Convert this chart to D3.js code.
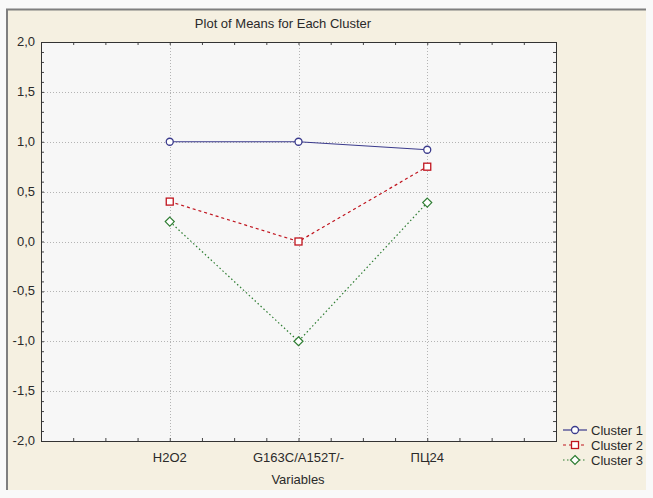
<!DOCTYPE html>
<html>
<head>
<meta charset="utf-8">
<script src="https://cdn.jsdelivr.net/npm/d3@7"></script>
<style>
  body { margin: 0; background: #f9f9f9; }
  text { font-family: "Liberation Sans", Arial, sans-serif; fill: #2a2a2a; }
</style>
</head>
<body>
<svg id="chart" width="653" height="498"></svg>
<script>
const variables = ["H2O2", "G163C/A152T/-", "ПЦ24"];
const clusterNames = ["Cluster 1", "Cluster 2", "Cluster 3"];
const cluster1 = [1.0, 1.0, 0.92];
const cluster2 = [0.40, 0.0, 0.75];
const cluster3 = [0.20, -1.0, 0.39];
const yTicks = [-2.0, -1.5, -1.0, -0.5, 0.0, 0.5, 1.0, 1.5, 2.0];

const series = [
    {name: clusterNames[0], values: cluster1, color: "#3a3a8c", dash: null, marker: "circle"},
    {name: clusterNames[1], values: cluster2, color: "#c0141e", dash: "3,3", marker: "square"},
    {name: clusterNames[2], values: cluster3, color: "#2e7d32", dash: "1.5,2.5", marker: "diamond"}
];

const svg = d3.select("#chart");
const fs = 13;

// panel frame (sunken look)
svg.append("rect").attr("x", 6).attr("y", 9).attr("width", 640).attr("height", 481).attr("fill", "#f5f0e1");
svg.append("line").attr("x1", 6).attr("x2", 646).attr("y1", 9.5).attr("y2", 9.5).attr("stroke", "#7f7f7f").attr("stroke-width", 2);
svg.append("line").attr("x1", 7).attr("x2", 7).attr("y1", 9).attr("y2", 490).attr("stroke", "#7f7f7f").attr("stroke-width", 2);

const margin = {left: 41, top: 42, right: 556, bottom: 441};

const x = d3.scaleLinear().domain([0, variables.length + 1]).range([margin.left, margin.right]);
const y = d3.scaleLinear().domain([-2, 2]).range([margin.bottom, margin.top]);

svg.append("rect")
    .attr("x", margin.left).attr("y", margin.top)
    .attr("width", margin.right - margin.left).attr("height", margin.bottom - margin.top)
    .attr("fill", "#f7f7f7");

// grid lines
const grid = svg.append("g").attr("stroke", "#b4b4b4").attr("stroke-dasharray", "1,2").attr("stroke-width", 1);
yTicks.slice(1, -1).forEach(v => {
    grid.append("line").attr("x1", margin.left).attr("x2", margin.right)
        .attr("y1", Math.round(y(v)) + 0.5).attr("y2", Math.round(y(v)) + 0.5);
});
variables.forEach((v, i) => {
    grid.append("line").attr("y1", margin.top).attr("y2", margin.bottom)
        .attr("x1", Math.round(x(i + 1)) + 0.5).attr("x2", Math.round(x(i + 1)) + 0.5);
});

// axes with inward minor ticks
const minorY = d3.range(-20, 21).map(d => d / 10);
const minorX = d3.range(0, 17).map(d => d / 4);
svg.append("g").attr("transform", `translate(${margin.left},0)`)
    .call(d3.axisRight(y).tickValues(minorY).tickSize(3).tickFormat(""));
svg.append("g").attr("transform", `translate(${margin.right},0)`)
    .call(d3.axisLeft(y).tickValues(minorY).tickSize(3).tickFormat(""));
svg.append("g").attr("transform", `translate(0,${margin.top})`)
    .call(d3.axisBottom(x).tickValues(minorX).tickSize(3).tickFormat(""));
svg.append("g").attr("transform", `translate(0,${margin.bottom})`)
    .call(d3.axisTop(x).tickValues(minorX).tickSize(3).tickFormat(""));
svg.selectAll(".domain").attr("stroke", "#333");
svg.selectAll(".tick line").attr("stroke", "#444");

// frame
svg.append("rect")
    .attr("x", margin.left + 0.5).attr("y", margin.top + 0.5)
    .attr("width", margin.right - margin.left).attr("height", margin.bottom - margin.top)
    .attr("fill", "none").attr("stroke", "#333").attr("stroke-width", 1);

// y tick labels
svg.append("g").selectAll("text").data(yTicks).join("text")
    .attr("x", 35).attr("y", d => y(d) + 4)
    .attr("text-anchor", "end").attr("font-size", fs)
    .text(d => d3.format(".1f")(d).replace(".", ",").replace("−", "-"));

// x tick labels
svg.append("g").selectAll("text").data(variables).join("text")
    .attr("x", (d, i) => x(i + 1)).attr("y", 462)
    .attr("text-anchor", "middle").attr("font-size", fs)
    .text(d => d);

svg.append("text").attr("x", 298).attr("y", 484).attr("text-anchor", "middle").attr("font-size", fs).text("Variables");
svg.append("text").attr("x", 283).attr("y", 28).attr("text-anchor", "middle").attr("font-size", fs).text("Plot of Means for Each Cluster");

function drawMarker(g, type, cx, cy, color) {
    if (type === "circle") {
        g.append("circle").attr("cx", cx).attr("cy", cy).attr("r", 3.5)
            .attr("fill", "#fff").attr("stroke", color).attr("stroke-width", 1.3);
    } else if (type === "square") {
        g.append("rect").attr("x", cx - 3.5).attr("y", cy - 3.5).attr("width", 7).attr("height", 7)
            .attr("fill", "#fff").attr("stroke", color).attr("stroke-width", 1.3);
    } else {
        g.append("path").attr("d", `M${cx},${cy - 4.5}L${cx + 4.5},${cy}L${cx},${cy + 4.5}L${cx - 4.5},${cy}Z`)
            .attr("fill", "#fff").attr("stroke", color).attr("stroke-width", 1.2);
    }
}

const line = d3.line().x((d, i) => x(i + 1)).y(d => y(d));

series.forEach(s => {
    const g = svg.append("g");
    g.append("path").datum(s.values).attr("d", line)
        .attr("fill", "none").attr("stroke", s.color).attr("stroke-width", 1.2)
        .attr("stroke-dasharray", s.dash);
    s.values.forEach((v, i) => drawMarker(g, s.marker, x(i + 1), y(v), s.color));
});

// legend
series.forEach((s, i) => {
    const ly = 430 + i * 15;
    const g = svg.append("g");
    g.append("line").attr("x1", 563).attr("x2", 587).attr("y1", ly).attr("y2", ly)
        .attr("stroke", s.color).attr("stroke-width", 1.2).attr("stroke-dasharray", s.dash);
    drawMarker(g, s.marker, 575, ly, s.color);
    g.append("text").attr("x", 591).attr("y", ly + 4.5).attr("font-size", fs).text(s.name);
});
</script>
</body>
</html>
